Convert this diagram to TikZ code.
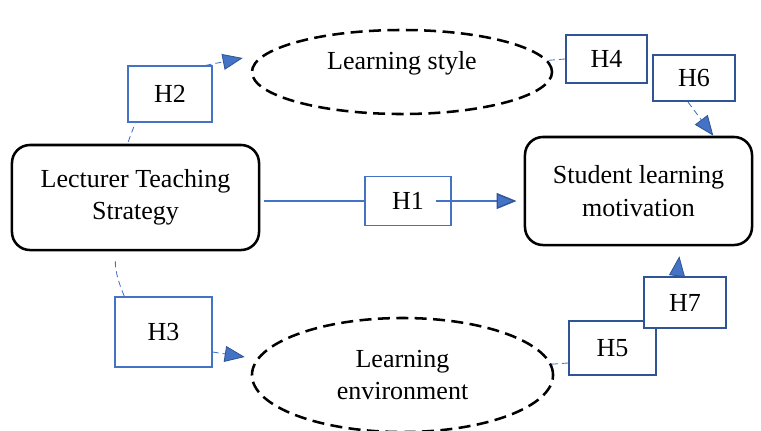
\documentclass[tikz,border=0pt]{standalone}
\usepackage{fontspec}
\setmainfont{Liberation Serif}
\usepackage{xcolor}
\usepackage{tikz}
\usetikzlibrary{shapes,arrows.meta,positioning}
\definecolor{hlight}{HTML}{4472C4}
\definecolor{hdark}{HTML}{2F5597}

\begin{document}
\begin{tikzpicture}[x=0.025cm, y=-0.025cm,
    font=\fontsize{18.5pt}{23pt}\selectfont,
    mainbox/.style={draw, line width=1.8pt, rounded corners=0.45cm, align=center},
    varell/.style={draw, ellipse, line width=1.8pt, dash pattern=on 0.3cm off 0.16cm, align=center},
    hyplight/.style={draw=hlight, line width=0.9pt, fill=white},
    hypdark/.style={draw=hdark, line width=1.6pt, fill=white},
    link/.style={draw=hlight, line width=0.6pt, dash pattern=on 0.15cm off 0.1cm},
    solidlink/.style={draw=hlight, line width=1pt},
    tip/.style={-{Triangle[length=0.5cm, width=0.4cm, fill=hlight, color=hdark]}}]
    \useasboundingbox (0,0) rectangle (761,430);

    % Main constructs
    \node[mainbox, minimum width=6.175cm, minimum height=2.625cm] (lts) at (135.5,197.5) {Lecturer Teaching\\Strategy};
    \node[mainbox, minimum width=5.675cm, minimum height=2.7cm] (slm) at (638.5,191) {Student learning\\motivation};

    % Mediators
    \node[varell, minimum width=7.5cm, minimum height=2.1cm] (ls) at (402,72) {};
    \node (lstext) at ([yshift=0.22cm]ls.center) {Learning style};
    \node[varell, minimum width=7.525cm, minimum height=2.85cm] (le) at (402.5,375) {Learning\\environment};

    % Hypotheses
    \node[hyplight, minimum width=2.15cm, minimum height=1.225cm] (h1) at (408,201) {H1};
    \node[hyplight, minimum width=2.1cm, minimum height=1.4cm] (h2) at (170,94) {H2};
    \node[hyplight, minimum width=2.425cm, minimum height=1.75cm] (h3) at (163.5,332) {H3};
    \node[hypdark, minimum width=2.025cm, minimum height=1.2cm] (h4) at (606.5,59) {H4};
    \node[hypdark, minimum width=2.175cm, minimum height=1.35cm] (h5) at (612.5,348) {H5};
    \node[hypdark, minimum width=2.05cm, minimum height=1.15cm] (h6) at (694,78) {H6};
    \node[hypdark, minimum width=2.05cm, minimum height=1.275cm] (h7) at (685,302.5) {H7};

    % H1: direct effect
    \draw[solidlink, shorten <=0.1cm] (lts.east |- h1.west) -- (h1.west);
    \draw[solidlink, tip, shorten >=0.18cm] ([xshift=0.7cm]h1.center) -- (slm.west |- h1.east);

    % H2, H3: strategy to mediators
    \draw[link, shorten <=0.05cm] ([xshift=-0.2cm]lts.north) -- ([xshift=0.2cm]h2.south west);
    \draw[link, tip] ([xshift=-0.175cm]h2.north east) -- ([shift={(-0.2cm,0.35cm)}]ls.west);
    \draw[link, shorten <=0.25cm] ([xshift=-0.5cm]lts.south) to[bend right=12] ([xshift=0.25cm]h3.north west);
    \draw[link, tip] ([yshift=-0.5cm]h3.east) -- ([shift={(-0.15cm,0.45cm)}]le.west);

    % H4, H5: mediators to hypotheses
    \draw[link] (h4.west) -- (ls);
    \draw[link] ([yshift=-0.375cm]h5.west) -- (le);

    % H6, H7: into motivation
    \draw[link, tip] ([xshift=-0.15cm]h6.south) -- ([xshift=-1cm]slm.north east);
    \draw[link, tip, shorten >=0.25cm] ([xshift=-0.2cm]h7.north) -- ([xshift=1.05cm]slm.south);
\end{tikzpicture}
\end{document}
